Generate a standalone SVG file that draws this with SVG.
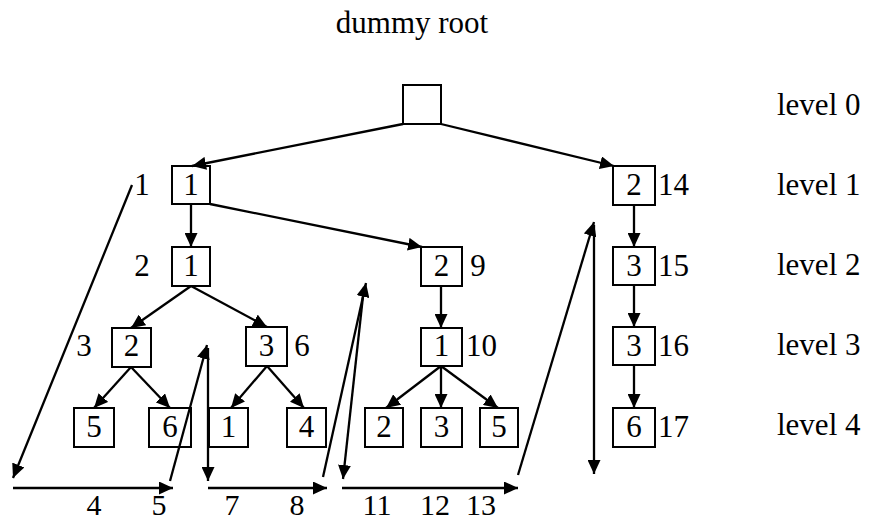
<svg xmlns="http://www.w3.org/2000/svg" width="872" height="522" viewBox="0 0 872 522">
  <style>
    .box { fill: #ffffff; stroke: #000000; stroke-width: 2; }
    .edge { fill: none; stroke: #000000; stroke-width: 2.3; marker-end: url(#arrow); }
    .t { font-family: "Liberation Serif", "Times New Roman", serif; font-size: 31px; fill: #000000; }
    .b { font-size: 30px; }
    .c { text-anchor: middle; }
  </style>
  <defs>
    <marker id="arrow" markerUnits="userSpaceOnUse" markerWidth="15" markerHeight="13" refX="14" refY="6.5" orient="auto">
      <path d="M0,0 L14,6.5 L0,13 Z" fill="#000000"/>
    </marker>
  </defs>
  <rect width="872" height="522" fill="#ffffff"/>

  <text class="t c" x="412" y="33">dummy root</text>

  <!-- level captions -->
  <g id="levels">
    <text class="t" x="777" y="115">level 0</text>
    <text class="t" x="777" y="195">level 1</text>
    <text class="t" x="777" y="275">level 2</text>
    <text class="t" x="777" y="355">level 3</text>
    <text class="t" x="777" y="435">level 4</text>
  </g>

  <!-- tree nodes -->
  <g id="root"><rect class="box" x="403" y="85" width="38" height="39"/></g>

  <g id="n1a"><rect class="box" x="172" y="166" width="38" height="38"/><text class="t c" x="191" y="195">1</text></g>
  <g id="n1b"><rect class="box" x="613" y="166" width="42" height="39"/><text class="t c" x="634" y="195">2</text></g>

  <g id="n2a"><rect class="box" x="172" y="247" width="38" height="39"/><text class="t c" x="191" y="276">1</text></g>
  <g id="n2b"><rect class="box" x="421" y="247" width="41" height="39"/><text class="t c" x="441.5" y="276">2</text></g>
  <g id="n2c"><rect class="box" x="613" y="247" width="42" height="38"/><text class="t c" x="634" y="276">3</text></g>

  <g id="n3a"><rect class="box" x="112" y="328" width="39" height="39"/><text class="t c" x="131.5" y="356">2</text></g>
  <g id="n3b"><rect class="box" x="246" y="327" width="41" height="39"/><text class="t c" x="266.5" y="356">3</text></g>
  <g id="n3c"><rect class="box" x="421" y="328" width="41" height="38"/><text class="t c" x="441.5" y="356">1</text></g>
  <g id="n3d"><rect class="box" x="613" y="327" width="42" height="38"/><text class="t c" x="634" y="356">3</text></g>

  <g id="n4a"><rect class="box" x="74" y="408" width="40" height="39"/><text class="t c" x="94" y="437">5</text></g>
  <g id="n4b"><rect class="box" x="149" y="408" width="42" height="39"/><text class="t c" x="170" y="437">6</text></g>
  <g id="n4c"><rect class="box" x="209" y="408" width="39" height="39"/><text class="t c" x="228.5" y="437">1</text></g>
  <g id="n4d"><rect class="box" x="287" y="408" width="39" height="39"/><text class="t c" x="306.5" y="437">4</text></g>
  <g id="n4e"><rect class="box" x="365" y="408" width="38" height="39"/><text class="t c" x="384" y="437">2</text></g>
  <g id="n4f"><rect class="box" x="421" y="408" width="41" height="39"/><text class="t c" x="441.5" y="437">3</text></g>
  <g id="n4g"><rect class="box" x="480" y="408" width="38" height="39"/><text class="t c" x="499" y="437">5</text></g>
  <g id="n4h"><rect class="box" x="613" y="408" width="42" height="39"/><text class="t c" x="634" y="437">6</text></g>

  <!-- visit order numbers -->
  <g id="order">
    <text class="t c" x="142" y="195">1</text>
    <text class="t c" x="142" y="276">2</text>
    <text class="t c" x="84" y="356">3</text>
    <text class="t c" x="302" y="356">6</text>
    <text class="t c" x="478" y="276">9</text>
    <text class="t" x="466" y="356">10</text>
    <text class="t" x="658" y="195">14</text>
    <text class="t" x="658" y="276">15</text>
    <text class="t" x="658" y="356">16</text>
    <text class="t" x="658" y="437">17</text>
    <text class="t b c" x="94" y="515">4</text>
    <text class="t b c" x="159" y="515">5</text>
    <text class="t b c" x="232" y="515">7</text>
    <text class="t b c" x="297" y="515">8</text>
    <text class="t b c" x="377" y="515">11</text>
    <text class="t b c" x="435" y="515">12</text>
    <text class="t b c" x="481" y="515">13</text>
  </g>

  <!-- parent-child edges and traversal path -->
  <g id="connectors">
    <line class="edge" x1="403" y1="124" x2="192" y2="166"/>
    <line class="edge" x1="441" y1="124" x2="614" y2="166"/>
    <line class="edge" x1="191" y1="204" x2="191" y2="247"/>
    <line class="edge" x1="210" y1="204" x2="422" y2="247"/>
    <line class="edge" x1="191" y1="286" x2="131" y2="328"/>
    <line class="edge" x1="191" y1="286" x2="267" y2="327"/>
    <line class="edge" x1="131" y1="367" x2="94" y2="408"/>
    <line class="edge" x1="131" y1="367" x2="170" y2="408"/>
    <line class="edge" x1="267" y1="366" x2="231" y2="408"/>
    <line class="edge" x1="267" y1="366" x2="304" y2="408"/>
    <line class="edge" x1="441" y1="286" x2="441" y2="328"/>
    <line class="edge" x1="441" y1="366" x2="386" y2="408"/>
    <line class="edge" x1="441" y1="366" x2="441" y2="408"/>
    <line class="edge" x1="441" y1="366" x2="498" y2="408"/>
    <line class="edge" x1="634" y1="205" x2="634" y2="247"/>
    <line class="edge" x1="634" y1="285" x2="634" y2="327"/>
    <line class="edge" x1="634" y1="365" x2="634" y2="408"/>

    <line class="edge" x1="132" y1="185" x2="13" y2="478"/>
    <line class="edge" x1="13" y1="488" x2="173" y2="488"/>
    <line class="edge" x1="170" y1="481" x2="207" y2="345"/>
    <line class="edge" x1="208" y1="348" x2="208" y2="481"/>
    <line class="edge" x1="208" y1="488" x2="327" y2="488"/>
    <line class="edge" x1="323" y1="477" x2="366" y2="283"/>
    <line class="edge" x1="364" y1="287" x2="343" y2="479"/>
    <line class="edge" x1="342" y1="488" x2="518" y2="488"/>
    <line class="edge" x1="518" y1="475" x2="594" y2="222"/>
    <line class="edge" x1="594" y1="225" x2="594" y2="474"/>
  </g>
</svg>
